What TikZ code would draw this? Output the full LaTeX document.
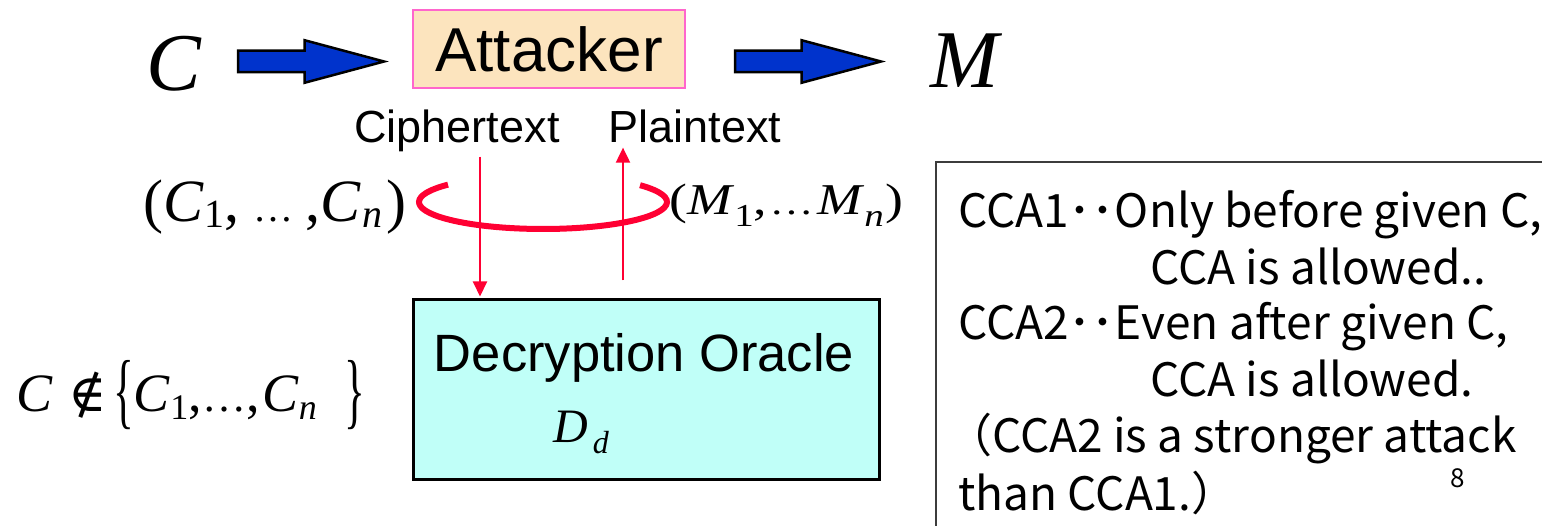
\documentclass[tikz,border=0pt]{standalone}
\usepackage{fontspec}
\setmainfont{Liberation Sans}
\newfontfamily\tms{Liberation Serif}
\newfontfamily\jp{Noto Sans CJK JP}
\newfontfamily\dvs{DejaVu Serif}
\usetikzlibrary{arrows.meta,shapes.arrows,calc}

\definecolor{flowblue}{RGB}{0,51,204}
\definecolor{attfill}{RGB}{252,228,190}
\definecolor{attline}{RGB}{255,102,204}
\definecolor{orfill}{RGB}{192,255,248}
\definecolor{qred}{RGB}{255,0,51}
\definecolor{panelline}{RGB}{60,60,60}

\newcommand{\fsz}[1]{\fontsize{#1}{#1}\selectfont}

\begin{document}
\begin{tikzpicture}[x=1pt,y=-1pt,
  var/.style={inner sep=0pt, font=\tms\itshape},
  label/.style={inner sep=0pt, font=\fsz{45}},
  bigarrow/.style={single arrow, draw=black, line width=2.5pt, fill=flowblue,
    minimum height=146pt, minimum width=40pt, single arrow head extend=10.5pt,
    single arrow tip angle=30, inner xsep=0pt, inner ysep=9.5pt, outer sep=0pt,
    anchor=tail},
  attbox/.style={draw=attline, line width=2.5pt, fill=attfill, inner sep=0pt,
    minimum width=272pt, minimum height=78pt, font=\fsz{62}},
  oraclebox/.style={draw=black, line width=3pt, fill=orfill, inner sep=0pt,
    minimum width=466pt, minimum height=179pt},
  query/.style={draw=qred, line width=2pt, -{Triangle[width=14pt,length=15pt]}},
  ring/.style={draw=qred, line width=6pt},
  panel/.style={draw=panelline, line width=2pt},
  note/.style={inner sep=0pt, anchor=base west, font=\jp\fsz{46}}
]
\useasboundingbox (0,0) rectangle (1542,526);

% top row: ciphertext -> attacker -> message
\node[var, font=\tms\itshape\fsz{82}, anchor=base] (C) at (174,91) {C};
\node[attbox] (att) at (549,49) {Attacker};
\node[var, font=\tms\itshape\fsz{82}, anchor=base] (M) at (965,88) {M};
\node[bigarrow] (a1) at (238,61.5) {};
\node[bigarrow] (a2) at (735,61.5) {};

% labels under the attacker
\node[label, anchor=base] (cipher) at (457,143) {Ciphertext};
\node[label, anchor=base] (plain) at (695,143) {Plaintext};

% decryption oracle
\node[oraclebox] (orc) at (646,389.5) {};
\node[inner sep=0pt, anchor=base, font=\fsz{52.5}] (dec) at (644,372) {Decryption Oracle};
\node[var, anchor=base west, font=\tms\itshape\fsz{48}] (dd) at (553,442)
  {D\hspace{5pt}\raisebox{-11pt}{\fsz{32}d}};

% query loop
\coordinate (dnx) at (480,0);
\coordinate (upx) at (623,0);
\draw[ring] (543,202) ++(-38.5:124 and 27) arc[start angle=-38.5, end angle=220, x radius=124, y radius=27];
\draw[query, shorten <=4pt, shorten >=2pt] (cipher.south -| dnx) -- (orc.north -| dnx);
\draw[query, shorten <=18pt, shorten >=4pt] (orc.north -| upx) -- (plain.south -| upx);

% queried ciphertexts and answers
\node[inner sep=0pt, anchor=base west, font=\tms\fsz{60}] (cs) at (143,222)
  {(\textit{C}\hspace{1pt}\raisebox{-6pt}{\fsz{40}1},\hspace{14pt}{\fsz{40}\dots}\hspace{12pt},\textit{C}\hspace{1pt}\raisebox{-6pt}{\fsz{40}\itshape n}\hspace{4pt})};
\node[inner sep=0pt, anchor=base west, font=\tms\fsz{44}] (ms) at (669,215)
  {\scalebox{1.22}[1]{(\textit{M}\raisebox{-12pt}{\fsz{32}1},\hspace{2pt}{\fsz{36}\dots}\hspace{3pt}\textit{M}\raisebox{-12pt}{\fsz{32}\itshape n}\hspace{1pt})}};

% the challenge is never queried
\node[inner sep=0pt, anchor=base west, font=\tms\fsz{54}] (cond) at (16,412)
  {\textit{C}\hspace{16pt}{\dvs\fsz{52}\symbol{"2209}}\hspace{6pt}\raisebox{-6pt}{\scalebox{0.8}[1.55]{\{}}\textit{C}\raisebox{-7pt}{\fsz{36}1},\hspace{1pt}{\fsz{44}\dots},\hspace{2pt}\textit{C}\raisebox{-7pt}{\fsz{36}\itshape n}\hspace{28pt}\raisebox{-6pt}{\scalebox{0.8}[1.55]{\}}}};

% notes on CCA1 and CCA2
\draw[panel] (936,600) -- (936,162) -- (1560,162);
\node[note] (n1) at (958,228) {CCA1{･･}Only before given C,};
\node[note] (n2) at (1150,285) {CCA is allowed..};
\node[note] (n3) at (958,340) {CCA2{･･}Even after given C,};
\node[note] (n4) at (1150,396) {CCA is allowed.};
\node[note] (n5) at (946,452) {（CCA2 is a stronger attack};
\node[note] (n6) at (958,510) {than CCA1.）};
\node[inner sep=0pt, anchor=base, font=\jp\fsz{26}] (pg) at (1458,487) {8};
\end{tikzpicture}
\end{document}
